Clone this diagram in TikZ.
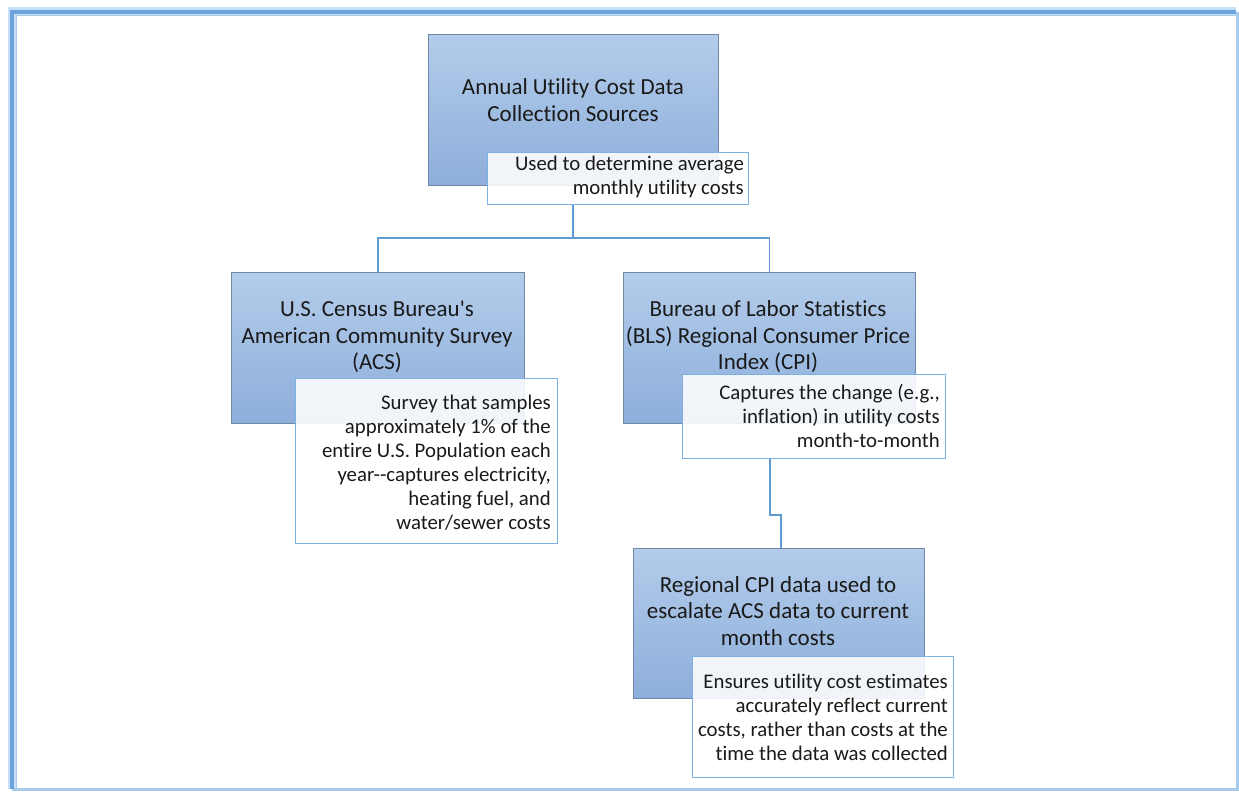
\documentclass[tikz,border=0pt]{standalone}
\usepackage{fontspec}
\newfontfamily\calfont{Carlito}[Ligatures=NoCommon]
\definecolor{boxtop}{HTML}{B3CCEA}
\definecolor{boxbot}{HTML}{8DAEDB}
\definecolor{boxline}{HTML}{6F88A8}
\definecolor{noteline}{HTML}{7DB0E2}
\definecolor{conn}{HTML}{5E9AD3}
\definecolor{frameA}{HTML}{C7DFF7}
\definecolor{frameB}{HTML}{6BA3DD}
\definecolor{frameC}{HTML}{A9CBEB}
\definecolor{txt}{HTML}{1A1A1A}
\tikzset{
  x=1pt,y=1pt,
  mainbox/.style={draw=boxline, line width=1pt, top color=boxtop, bottom color=boxbot, anchor=north west, inner sep=0pt},
  notebox/.style={draw=noteline, line width=1.2pt, fill=white, fill opacity=0.88, anchor=north west, inner sep=0pt},
  boxtext/.style={align=center, font=\calfont\fontsize{23}{26.5}\selectfont, text=txt, inner sep=0pt},
  notetext/.style={align=right, font=\calfont\fontsize{20.8}{24}\selectfont, text=txt, inner sep=0pt, anchor=east},
  link/.style={draw=conn, line width=1.4pt}
}
\begin{document}
\begin{tikzpicture}
\useasboundingbox (0,0) rectangle (1239,-792);
% frame
\draw[frameA, line width=9pt] (12,-789) -- (12,-12) -- (1236,-12);
\draw[frameC, line width=3pt] (12,-789) -- (1237,-789) -- (1237,-12);
\draw[frameB, line width=3.5pt] (12,-789) -- (12,-12) -- (1236,-12);
\draw[frameC, line width=1pt] (16,-788) -- (16,-16) -- (1235,-16);
\fill[white] (17.5,-17.5) rectangle (1235.5,-787.5);
% boxes
\node[mainbox, minimum width=290, minimum height=151] (top) at (428,-34) {};
\node[mainbox, minimum width=293, minimum height=151] (acs) at (231,-272) {};
\node[mainbox, minimum width=292, minimum height=151] (bls) at (623,-272) {};
\node[mainbox, minimum width=291, minimum height=150] (reg) at (633,-548) {};
\node[boxtext] (toptxt) at (573,-100) {Annual Utility Cost Data\\Collection Sources};
\node[boxtext] (acstxt) at (377,-337) {U.S. Census Bureau's\\American Community Survey\\(ACS)};
\node[boxtext] (blstxt) at (768,-337) {Bureau of Labor Statistics\\(BLS) Regional Consumer Price\\Index (CPI)};
\node[boxtext] (regtxt) at (778,-611) {Regional CPI data used to\\escalate ACS data to current\\month costs};
% notes
\node[notebox, minimum width=261, minimum height=52] (topn) at (487,-152) {};
\node[notebox, minimum width=262, minimum height=165] (acsn) at (295,-378) {};
\node[notebox, minimum width=263, minimum height=84] (blsn) at (682,-374) {};
\node[notebox, minimum width=261, minimum height=121] (regn) at (692,-656) {};
\node[notetext] (topnt) at (744,-177) {Used to determine average\\monthly utility costs};
\node[notetext] (acsnt) at (551,-463) {Survey that samples\\approximately 1\% of the\\entire U.S. Population each\\year--captures electricity,\\heating fuel, and\\water/sewer costs};
\node[notetext] (blsnt) at (940,-416) {Captures the change (e.g.,\\inflation) in utility costs\\month-to-month};
\node[notetext] (regnt) at (948,-717) {Ensures utility cost estimates\\accurately reflect current\\costs, rather than costs at the\\time the data was collected};
% connectors
\coordinate (j1) at (573,-238);
\draw[link] (topn.south -| j1) -- (j1);
\draw[link] (acs.north) |- (j1) -| (bls.north);
\coordinate (j2) at (770,-515);
\draw[link] (blsn.south -| j2) -- (j2) -| (reg.north -| 781,0);
\end{tikzpicture}
\end{document}
